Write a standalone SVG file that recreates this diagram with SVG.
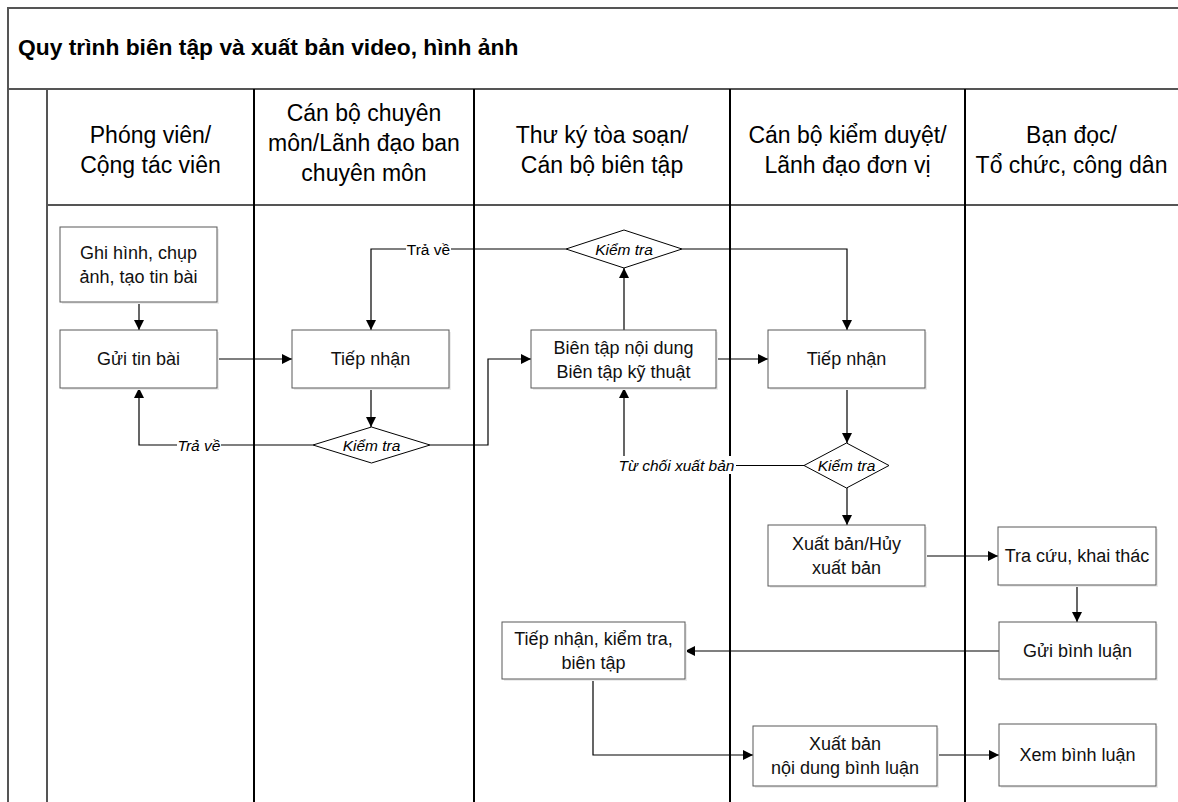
<svg xmlns="http://www.w3.org/2000/svg" width="1178" height="802" viewBox="0 0 1178 802">
<style>
.frame{stroke:#555;stroke-width:2;fill:none}
.lane{stroke:#000;stroke-width:2;fill:none}
.box{fill:#fff;stroke:#595959;stroke-width:1}
.shadow{fill:#ececec}
.dia{fill:#fff;stroke:#000;stroke-width:1}
.conn{fill:none;stroke:#000;stroke-width:1.2}
.title{font-family:"Liberation Sans",Arial,sans-serif;font-size:22.8px;font-weight:bold;fill:#000}
.hdr{font-family:"Liberation Sans",Arial,sans-serif;font-size:23px;fill:#000;text-anchor:middle}
.nt{font-family:"Liberation Sans",Arial,sans-serif;font-size:18px;fill:#111;text-anchor:middle}
.dt{font-family:"Liberation Sans",Arial,sans-serif;font-size:15.5px;font-style:italic;fill:#000;text-anchor:middle}
.lbl{font-family:"Liberation Sans",Arial,sans-serif;font-size:15.5px;fill:#000;text-anchor:middle}
.lbg{fill:#fff}
</style>
<defs>
<marker id="arr" viewBox="0 0 10 10" refX="10" refY="5" markerWidth="10" markerHeight="10" markerUnits="userSpaceOnUse" orient="auto">
<path d="M0,0 L10,5 L0,10 Z" fill="#000"/>
</marker>
</defs>
<rect x="0" y="0" width="1178" height="802" fill="#fff"/>

<g id="pool">
<path class="frame" d="M8,802 V8 H1178"/>
<path class="frame" d="M8,89 H1178"/>
<path class="frame" d="M47,89 V802"/>
<path class="frame" d="M47,205 H1178"/>
<path class="lane" d="M254,89 V802 M474,89 V802 M730,89 V802 M965,89 V802"/>
<text class="title" x="18" y="55">Quy trình biên tập và xuất bản video, hình ảnh</text>
</g>

<g id="lane-headers">
<text class="hdr" x="150.5" y="143">Phóng viên/</text>
<text class="hdr" x="150.5" y="173">Cộng tác viên</text>
<text class="hdr" x="364" y="121">Cán bộ chuyên</text>
<text class="hdr" x="364" y="151">môn/Lãnh đạo ban</text>
<text class="hdr" x="364" y="181">chuyên môn</text>
<text class="hdr" x="602" y="143">Thư ký tòa soạn/</text>
<text class="hdr" x="602" y="173">Cán bộ biên tập</text>
<text class="hdr" x="847.5" y="143">Cán bộ kiểm duyệt/</text>
<text class="hdr" x="847.5" y="173">Lãnh đạo đơn vị</text>
<text class="hdr" x="1071.5" y="143">Bạn đọc/</text>
<text class="hdr" x="1071.5" y="173">Tổ chức, công dân</text>
</g>

<g id="connectors">
<path class="conn" marker-end="url(#arr)" d="M139,302 V330"/>
<path class="conn" marker-end="url(#arr)" d="M217,359 H292"/>
<path class="conn" marker-end="url(#arr)" d="M371,388 V427"/>
<path class="conn" marker-end="url(#arr)" d="M313,445 H139 V388"/>
<path class="conn" marker-end="url(#arr)" d="M430,445 H488 V359 H531"/>
<path class="conn" marker-end="url(#arr)" d="M624,330 V268"/>
<path class="conn" marker-end="url(#arr)" d="M566,249 H371 V330"/>
<path class="conn" marker-end="url(#arr)" d="M682,249 H847 V330"/>
<path class="conn" marker-end="url(#arr)" d="M716,359 H768"/>
<path class="conn" marker-end="url(#arr)" d="M847,388 V443"/>
<path class="conn" marker-end="url(#arr)" d="M804,465.5 H624 V388"/>
<path class="conn" marker-end="url(#arr)" d="M847,488 V525"/>
<path class="conn" marker-end="url(#arr)" d="M925,556 H998"/>
<path class="conn" marker-end="url(#arr)" d="M1077,585 V622"/>
<path class="conn" marker-end="url(#arr)" d="M999,651 H685"/>
<path class="conn" marker-end="url(#arr)" d="M593,679 V755 H753"/>
<path class="conn" marker-end="url(#arr)" d="M937,755 H999"/>
<rect class="lbg" x="177" y="436" width="44" height="18"/>
<text class="dt" x="199" y="451">Trả về</text>
<rect class="lbg" x="406" y="240" width="45" height="18"/>
<text class="lbl" x="428.5" y="255">Trả về</text>
<rect class="lbg" x="617" y="456" width="119" height="18"/>
<text class="dt" x="676.5" y="471">Từ chối xuất bản</text>
</g>

<g id="n-ghihinh">
<rect class="shadow" x="62" y="229" width="157" height="75"/>
<rect class="box" x="60" y="227" width="157" height="75"/>
<text class="nt" x="138.5" y="259">Ghi hình, chụp</text>
<text class="nt" x="138.5" y="283">ảnh, tạo tin bài</text>
</g>
<g id="n-guitinbai">
<rect class="shadow" x="62" y="332" width="157" height="58"/>
<rect class="box" x="60" y="330" width="157" height="58"/>
<text class="nt" x="138.5" y="365">Gửi tin bài</text>
</g>
<g id="n-tiepnhan1">
<rect class="shadow" x="294" y="332" width="157" height="58"/>
<rect class="box" x="292" y="330" width="157" height="58"/>
<text class="nt" x="370.5" y="365">Tiếp nhận</text>
</g>
<g id="d-kiemtra1">
<polygon class="dia" points="313,445 371.5,427 430,445 371.5,463"/>
<text class="dt" x="371.5" y="450.5">Kiểm tra</text>
</g>
<g id="n-bientap">
<rect class="shadow" x="533" y="332" width="185" height="58"/>
<rect class="box" x="531" y="330" width="185" height="58"/>
<text class="nt" x="623.5" y="354">Biên tập nội dung</text>
<text class="nt" x="623.5" y="378">Biên tập kỹ thuật</text>
</g>
<g id="d-kiemtra2">
<polygon class="dia" points="566,249 624,230 682,249 624,268"/>
<text class="dt" x="624" y="254.5">Kiểm tra</text>
</g>
<g id="n-tiepnhan2">
<rect class="shadow" x="770" y="332" width="157" height="58"/>
<rect class="box" x="768" y="330" width="157" height="58"/>
<text class="nt" x="846.5" y="365">Tiếp nhận</text>
</g>
<g id="d-kiemtra3">
<polygon class="dia" points="804,465.5 846.5,443 889,465.5 846.5,488"/>
<text class="dt" x="846.5" y="471">Kiểm tra</text>
</g>
<g id="n-xuatban">
<rect class="shadow" x="770" y="527" width="157" height="61"/>
<rect class="box" x="768" y="525" width="157" height="61"/>
<text class="nt" x="846.5" y="550">Xuất bản/Hủy</text>
<text class="nt" x="846.5" y="574">xuất bản</text>
</g>
<g id="n-tracuu">
<rect class="shadow" x="1000" y="529" width="158" height="58"/>
<rect class="box" x="998" y="527" width="158" height="58"/>
<text class="nt" x="1077" y="562">Tra cứu, khai thác</text>
</g>
<g id="n-guibinhluan">
<rect class="shadow" x="1001" y="624" width="157" height="57"/>
<rect class="box" x="999" y="622" width="157" height="57"/>
<text class="nt" x="1077.5" y="657">Gửi bình luận</text>
</g>
<g id="n-tiepnhankiemtra">
<rect class="shadow" x="504" y="624" width="183" height="57"/>
<rect class="box" x="502" y="622" width="183" height="57"/>
<text class="nt" x="593.5" y="645">Tiếp nhận, kiểm tra,</text>
<text class="nt" x="593.5" y="669">biên tập</text>
</g>
<g id="n-xuatbanbinhluan">
<rect class="shadow" x="755" y="728" width="184" height="60"/>
<rect class="box" x="753" y="726" width="184" height="60"/>
<text class="nt" x="845" y="750">Xuất bản</text>
<text class="nt" x="845" y="774">nội dung bình luận</text>
</g>
<g id="n-xembinhluan">
<rect class="shadow" x="1001" y="726" width="157" height="62"/>
<rect class="box" x="999" y="724" width="157" height="62"/>
<text class="nt" x="1077.5" y="761">Xem bình luận</text>
</g>
</svg>
